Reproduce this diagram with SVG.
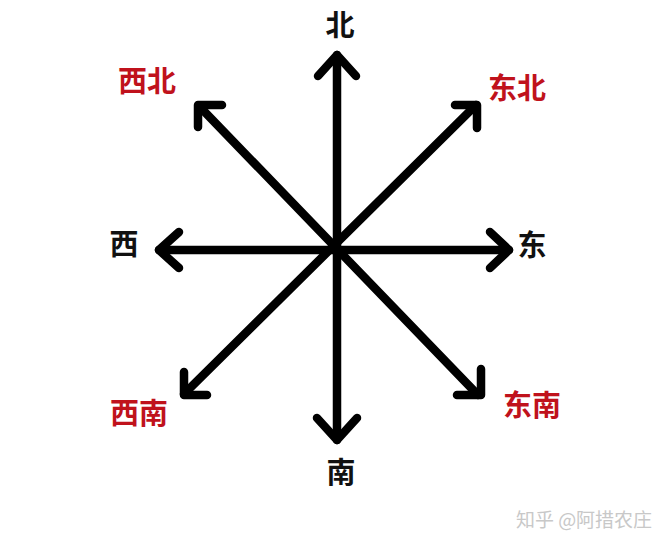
<svg xmlns="http://www.w3.org/2000/svg" width="672" height="548" viewBox="0 0 672 548">
<style>
.ln{stroke:#000;stroke-width:8.5;fill:none;stroke-linecap:round;stroke-linejoin:round}
.t{font-family:"Noto Sans CJK SC","Noto Sans",sans-serif;font-size:29px;font-weight:700;text-anchor:middle}
.blk{fill:#111}
.red{fill:#c0121c}
.wm{font-family:"Noto Sans CJK SC","Noto Sans",sans-serif;font-size:19px;fill:#c8c8c8;text-anchor:middle}
</style>
<rect width="672" height="548" fill="#fff"/>
<g id="connectors">
<line class="ln" x1="337" y1="55" x2="337" y2="440"/>
<line class="ln" x1="159" y1="250" x2="509" y2="250"/>
<line class="ln" x1="199" y1="106" x2="478" y2="395"/>
<line class="ln" x1="476" y1="105" x2="184" y2="394"/>
<polyline class="ln" points="318,76 337,55 356,76"/>
<polyline class="ln" points="317,418 337,440 357,418"/>
<polyline class="ln" points="179,232 159,250 179,268"/>
<polyline class="ln" points="490,232 509,250 490,268"/>
<polyline class="ln" points="222,105 198,105 198,127"/>
<polyline class="ln" points="455,105 477,105 477,128"/>
<polyline class="ln" points="184,372 184,395 207,395"/>
<polyline class="ln" points="481,369 481,395 457,395"/>
</g>
<g id="n-bei"><text class="t blk" x="340" y="36">北</text></g>
<g id="n-xibei"><text class="t red" x="147" y="92">西北</text></g>
<g id="n-dongbei"><text class="t red" x="517" y="99">东北</text></g>
<g id="n-xi"><text class="t blk" x="124" y="255">西</text></g>
<g id="n-dong"><text class="t blk" x="532" y="256">东</text></g>
<g id="n-xinan"><text class="t red" x="139" y="424">西南</text></g>
<g id="n-dongnan"><text class="t red" x="532" y="416">东南</text></g>
<g id="n-nan"><text class="t blk" x="341" y="483">南</text></g>
<g id="watermark"><text class="wm" x="584" y="527">知乎 @阿措农庄</text></g>
</svg>
